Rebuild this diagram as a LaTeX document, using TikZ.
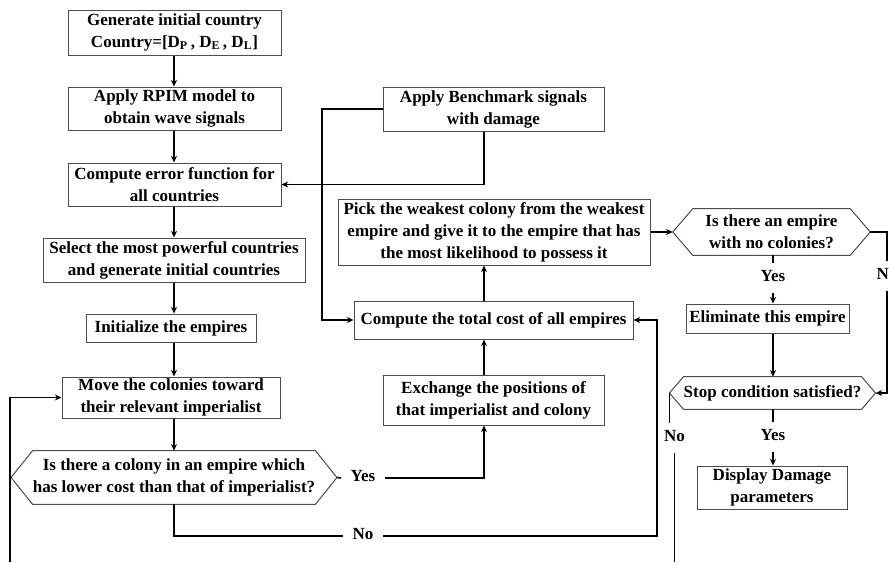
\documentclass[tikz,border=0pt]{standalone}
\usepackage{fontspec}
\setmainfont{Liberation Serif}
\usetikzlibrary{arrows.meta,calc}
\newcommand{\myfnt}{\fontsize{12.75}{16.5}\selectfont\bfseries}
\begin{document}
\begin{tikzpicture}[x=0.75pt,y=-0.75pt,
  box/.style={draw=black!70, line width=0.75pt, fill=white, inner sep=0pt, align=center, font=\myfnt},
  txt/.style={inner sep=0pt, align=center, font=\myfnt},
  hexline/.style={draw=black!70, line width=0.75pt},
  lbl/.style={inner xsep=7pt, inner ysep=6.5pt, text height=0.7em, text depth=0.15em, font=\myfnt},
  con/.style={line width=1.2pt, black},
  arr/.style={con, -{Stealth[length=5pt,width=4.5pt]}},
  sz/.style 2 args={minimum width=#1*0.75pt, minimum height=#2*0.75pt}]
\useasboundingbox (0,0) rectangle (889,562);

% left column
\node[box, sz={213}{45}] (b1) at (174.5,32.5) {Generate initial country\\Country=[D\textsubscript{P}\,, D\textsubscript{E}\,, D\textsubscript{L}]};
\node[box, sz={213}{43}] (b2) at (174.5,108.5) {Apply RPIM model to\\obtain wave signals};
\node[box, sz={213}{43}] (b3) at (174.5,184.5) {Compute error function for\\all countries};
\node[box, sz={262}{44}] (b4) at (174,260) {Select the most powerful countries\\and generate initial countries};
\node[box, sz={170}{28}] (b5) at (171,328) {Initialize the empires};
\node[box, sz={218}{41}] (b6) at (171,397.5) {Move the colonies toward\\their relevant imperialist};
\node[txt, sz={265}{53}] (h1) at (174,477.5) {Is there a colony in an empire which\\has lower cost than that of imperialist?};
\coordinate (h1w) at ($(h1.west)+(-21.5,0)$);
\coordinate (h1e) at ($(h1.east)+(21.5,0)$);
\draw[hexline] (h1.north west) -- (h1.north east) -- (h1e) -- (h1.south east) -- (h1.south west) -- (h1w) -- cycle;

% middle column
\node[box, sz={221}{44}] (bench) at (493.5,109) {Apply Benchmark signals\\with damage};
\node[box, sz={312}{66}] (pick) at (494,232) {Pick the weakest colony from the weakest\\empire and give it to the empire that has\\the most likelihood to possess it};
\node[box, sz={279}{38}] (comp) at (493.5,320) {Compute the total cost of all empires};
\node[box, sz={221}{50}] (exch) at (493.5,400) {Exchange the positions of\\that imperialist and colony};

% right column
\node[txt, sz={157}{46}] (h2) at (771.5,232) {Is there an empire\\with no colonies?};
\coordinate (h2w) at ($(h2.west)+(-20,0)$);
\coordinate (h2e) at ($(h2.east)+(20,0)$);
\draw[hexline] (h2.north west) -- (h2.north east) -- (h2e) -- (h2.south east) -- (h2.south west) -- (h2w) -- cycle;
\node[box, sz={163}{29}] (elim) at (767.5,318.5) {Eliminate this empire};
\node[txt, sz={169}{32}] (h3) at (772.5,393) {Stop condition satisfied?};
\coordinate (h3w) at ($(h3.west)+(-14,0)$);
\coordinate (h3e) at ($(h3.east)+(14,0)$);
\draw[hexline] (h3.north west) -- (h3.north east) -- (h3e) -- (h3.south east) -- (h3.south west) -- (h3w) -- cycle;
\node[box, sz={150}{43}] (disp) at (772,487.5) {Display Damage\\parameters};

% labels
\node[lbl] (yes1) at (363,478) {Yes};
\node[lbl] (no1) at (363,536) {No};
\node[lbl] (yes2) at (773,278) {Yes};
\node[lbl] (noR) at (887,276) {No};
\node[lbl] (yes3) at (773,437) {Yes};
\node[lbl] (no3) at (674.5,438) {No};

% helper coordinates
\coordinate (cx) at (174,0);
\coordinate (vx) at (484,0);
\coordinate (lx) at (322,0);
\coordinate (rx) at (657,0);
\coordinate (ex) at (773,0);
\coordinate (bot) at (0,562);
\coordinate (lb) at (10,562);

% left column connectors
\draw[arr] (b1.south -| cx) -- (b2.north -| cx);
\draw[arr] (b2.south -| cx) -- (b3.north -| cx);
\draw[arr] (b3.south -| cx) -- (b4.north -| cx);
\draw[arr] (b4.south -| cx) -- (b5.north -| cx);
\draw[arr] (b5.south -| cx) -- (b6.north -| cx);
\draw[arr] (b6.south -| cx) -- (h1.north -| cx);
\draw[arr] (lb) |- (b6.west);

% benchmark
\draw[arr] (bench.south -| vx) |- (b3.east);
\draw[arr] (bench.west) -| (lx |- comp.west) -- (comp.west);

% middle
\draw[arr] (comp.north -| vx) -- (pick.south -| vx);
\draw[arr] (exch.north -| vx) -- (comp.south -| vx);
\draw[con] (h1e) -- (yes1.west);
\draw[arr] (yes1.east) -| (exch.south -| vx);
\draw[con] (h1.south) |- (no1.west);
\draw[arr] (no1.east) -| (rx |- comp.east) -- (comp.east);

% right
\draw[arr] (pick.east) -- (h2w);
\draw[con] (h2.south -| ex) -- (yes2.north);
\draw[arr] (yes2.south) -- (elim.north -| ex);
\draw[con] (h2e) -| (noR.north);
\draw[arr] (noR.south) |- (h3e);
\draw[arr] (elim.south -| ex) -- (h3.north -| ex);
\draw[con] (h3.south -| ex) -- (yes3.north);
\draw[arr] (yes3.south) -- (disp.north -| ex);
\draw[con] (h3w) -- (h3w |- no3.north);
\draw[con] (no3.south) -- (no3.south |- bot);
\end{tikzpicture}
\end{document}
